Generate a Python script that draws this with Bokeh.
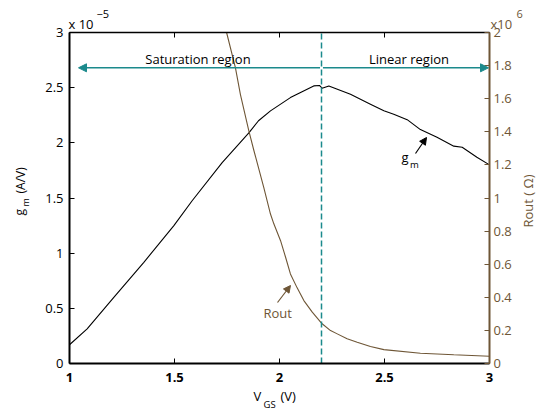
import math
from bokeh.plotting import figure
from bokeh.models import (Range1d, LinearAxis, FixedTicker, CustomJSTickFormatter,
                          Label, Arrow, NormalHead)
from bokeh.embed import file_html
from bokeh.resources import INLINE

# ---------------- data ----------------
vgs_gm = [1.0, 1.084, 1.211, 1.354, 1.497, 1.584, 1.727, 1.854, 1.90, 1.957, 2.052,
          2.163, 2.19, 2.203, 2.235, 2.338, 2.433, 2.497, 2.544, 2.608, 2.671, 2.75,
          2.83, 2.87, 2.94, 3.0]
gm_e5 = [0.17, 0.314, 0.60, 0.917, 1.25, 1.475, 1.82, 2.09, 2.20, 2.29, 2.41,
         2.516, 2.52, 2.495, 2.516, 2.44, 2.35, 2.29, 2.26, 2.21, 2.12, 2.05,
         1.97, 1.96, 1.87, 1.80]

vgs_rout = [1.748, 1.790, 1.814, 1.854, 1.878, 1.925, 1.957, 1.973, 2.005, 2.029,
            2.052, 2.084, 2.116, 2.156, 2.203, 2.243, 2.275, 2.322, 2.37, 2.433, 2.497,
            2.671, 2.83, 3.0]
rout_e6 = [2.0, 1.788, 1.625, 1.406, 1.287, 1.064, 0.903, 0.844, 0.742, 0.642,
           0.541, 0.457, 0.380, 0.310, 0.240, 0.199, 0.179, 0.149, 0.129, 0.103, 0.084,
           0.062, 0.053, 0.044]

x_ticks = [1, 1.5, 2, 2.5, 3]
gm_ticks = [0, 0.5, 1, 1.5, 2, 2.5, 3]
rout_ticks = [0, 0.2, 0.4, 0.6, 0.8, 1, 1.2, 1.4, 1.6, 1.8, 2]
boundary_vgs = 2.2
region_arrow_level = 2.68

FONT = "Open Sans"
BLACK = "#000000"
BROWN = "#6e5636"
TEAL = "#1b8a8c"

W, H = 538, 410
# pixel box of the axes (canvas pixels)
BL, BR, BT, BB = 69, 489, 32, 363
XMIN, XMAX = x_ticks[0], x_ticks[-1]
GMIN, GMAX = gm_ticks[0], gm_ticks[-1]
RMIN, RMAX = rout_ticks[0], rout_ticks[-1]


def px2x(px):
    return XMIN + (px - BL) / (BR - BL) * (XMAX - XMIN)


def py2y(py):
    return GMIN + (BB - py) / (BB - BT) * (GMAX - GMIN)


def py2r(py):
    return RMIN + (BB - py) / (BB - BT) * (RMAX - RMIN)


# The frame fills the whole canvas; the axes are fixed at the box edges.
p = figure(width=W, height=H,
           x_range=Range1d(px2x(0), px2x(W)), y_range=Range1d(py2y(H), py2y(0)),
           output_backend="svg", toolbar_location=None, title=None,
           x_axis_location=None, y_axis_location=None, min_border=0)
p.extra_y_ranges = {"rout": Range1d(py2r(H), py2r(0))}
p.outline_line_color = None
p.background_fill_color = "white"
p.border_fill_color = "white"
for g in p.grid:
    g.grid_line_color = None

fmt = CustomJSTickFormatter(code="return tick.toString()")


def style_axis(ax, color, lw, label_size="13px", bold=False):
    ax.axis_line_color = color
    ax.axis_line_width = lw
    ax.major_tick_line_color = color
    ax.major_tick_line_width = 1
    ax.major_tick_in = 5
    ax.major_tick_out = 0
    ax.minor_tick_line_color = None
    ax.major_label_text_color = color
    ax.major_label_text_font = FONT
    ax.major_label_text_font_size = label_size
    if bold:
        ax.major_label_text_font_style = "bold"


left = LinearAxis(ticker=FixedTicker(ticks=gm_ticks), formatter=fmt,
                  fixed_location=XMIN, bounds=(GMIN, GMAX))
style_axis(left, BLACK, 2)
left.major_label_standoff = 6
p.add_layout(left, "left")

bottom = LinearAxis(ticker=FixedTicker(ticks=x_ticks), formatter=fmt,
                    fixed_location=GMIN, bounds=(XMIN, XMAX))
style_axis(bottom, BLACK, 2, bold=True)
bottom.major_label_standoff = 9
p.add_layout(bottom, "below")

top = LinearAxis(ticker=FixedTicker(ticks=x_ticks),
                 formatter=CustomJSTickFormatter(code="return ''"),
                 fixed_location=GMAX, bounds=(XMIN, XMAX))
style_axis(top, BLACK, 1.5)
top.major_label_standoff = 0
p.add_layout(top, "above")

right = LinearAxis(y_range_name="rout", ticker=FixedTicker(ticks=rout_ticks), formatter=fmt,
                   fixed_location=XMAX, bounds=(RMIN, RMAX))
style_axis(right, BROWN, 2)
right.major_label_standoff = 4
p.add_layout(right, "right")

# ---------------- data lines ----------------
p.line(vgs_gm, gm_e5, line_color=BLACK, line_width=1.1)
p.line(vgs_rout, rout_e6, y_range_name="rout", line_color=BROWN, line_width=1.1)

# boundary between the regions
p.segment(x0=[boundary_vgs], y0=[GMIN], x1=[boundary_vgs], y1=[GMAX],
          line_color=TEAL, line_dash="6 3", line_width=1.5)


# ---------------- texts ----------------
def lab(text, px, py, size=13, color=BLACK, align="left", angle=0.0, style="normal"):
    # (px, py): wanted baseline anchor in canvas pixels; small correction for
    # the renderer's baseline placement, applied along the text's "up" direction
    k = 0.3 * size
    px = px - math.sin(angle) * k
    py = py - math.cos(angle) * k
    p.add_layout(Label(x=px2x(px), y=py2y(py), text=text, text_font=FONT,
                       text_font_size=f"{size}px", text_color=color, text_align=align,
                       text_baseline="alphabetic", angle=angle, text_font_style=style))


# region arrows
p.add_layout(Arrow(x_start=boundary_vgs - 0.007, y_start=region_arrow_level,
                   x_end=px2x(78), y_end=region_arrow_level,
                   line_color=TEAL, line_width=1.5,
                   end=NormalHead(size=8, fill_color=TEAL, line_color=TEAL)))
p.add_layout(Arrow(x_start=boundary_vgs + 0.007, y_start=region_arrow_level,
                   x_end=px2x(488), y_end=region_arrow_level,
                   line_color=TEAL, line_width=1.5,
                   end=NormalHead(size=8, fill_color=TEAL, line_color=TEAL)))
lab("Saturation region", 197.5, 62, align="center")
lab("Linear region", 408.5, 62, align="center")

# gm pointer
p.add_layout(Arrow(x_start=px2x(415), y_start=py2y(153), x_end=px2x(426), y_end=py2y(137),
                   line_color=BLACK, line_width=1.2,
                   end=NormalHead(size=7, fill_color=BLACK, line_color=BLACK)))
lab("g", 401, 160)
lab("m", 409.5, 167, size=9.5)

# Rout pointer
p.add_layout(Arrow(x_start=px2x(277), y_start=py2y(302), x_end=px2x(290), y_end=py2y(285),
                   line_color=BROWN, line_width=1.2,
                   end=NormalHead(size=7, fill_color=BROWN, line_color=BROWN)))
lab("Rout", 263, 316, color=BROWN)

# left axis title  g_m (A/V)
UP = math.pi / 2
lab("g", 23, 215, size=12, angle=UP)
lab("m", 28, 206, size=9, angle=UP)
lab("(A/V)", 24, 193, size=12, angle=UP)

# right axis title
lab("Rout ( \u03a9)", 531, 227, color=BROWN, angle=UP)

# bottom axis title  V_GS (V)
lab("V", 253, 399)
lab("GS", 263, 407, size=9.5)
lab("(V)", 280, 399)

# multipliers
lab("x 10", 68, 27)
lab("\u22125", 96, 16.5, size=11)
lab("x10", 490, 27, color=BROWN)
lab("6", 516, 16.5, size=11, color=BROWN)

open("out.html", "w").write(file_html(p, INLINE))
